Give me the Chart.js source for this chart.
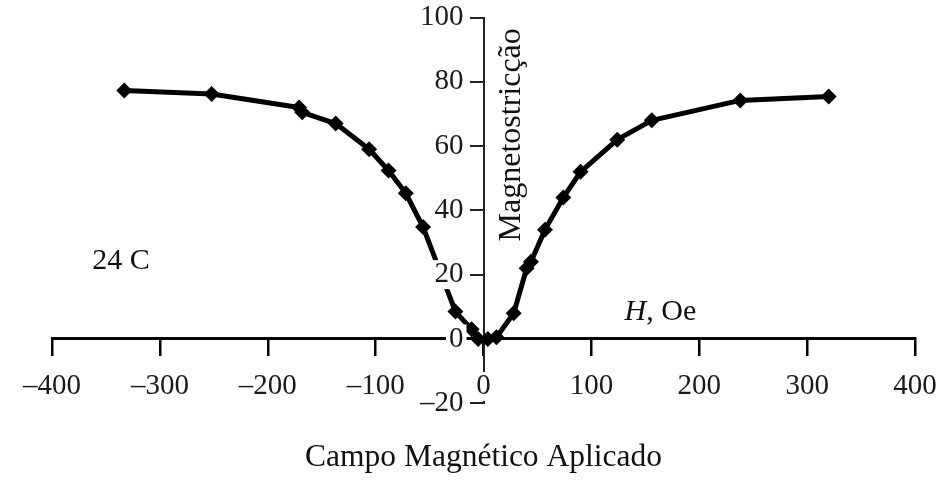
<!DOCTYPE html>
<html>
<head>
<meta charset="utf-8">
<script src="https://cdn.jsdelivr.net/npm/chart.js@4/dist/chart.umd.min.js"></script>
<style>
  html, body { margin: 0; padding: 0; background: #ffffff; }
  #wrap { width: 936px; height: 486px; }
</style>
</head>
<body>
<div id="wrap"><canvas id="c" width="936" height="486"></canvas></div>
<script>
// ---- data ----
const fieldH   = [-333, -252, -171, -168, -137, -106, -88, -72, -56, -26, -11, -5, 4, 12, 28, 40, 44, 57, 74, 90, 124, 156, 238, 320];
const magneto  = [77.3, 76.2, 72, 70.5, 67, 59, 52.4, 45.3, 34.8, 8.5, 3, 0, 0, 0.5, 8, 22, 24, 34, 44, 52, 62, 68, 74.2, 75.4];
const xTicks   = [-400, -300, -200, -100, 0, 100, 200, 300, 400];
const yTicks   = [-20, 0, 20, 40, 60, 80, 100];

const xTitle   = 'Campo Magnético Aplicado';
const yTitle   = 'Magnetostricção';
const tempNote = '24 C';
const unitNote = ['H', ', Oe'];

const SERIF = '"Liberation Serif", "Times New Roman", serif';
const fmt = v => (v < 0 ? '\u2013' + Math.abs(v) : String(v));
const noPad = s => { s.paddingLeft = 0; s.paddingRight = 0; s.paddingTop = 0; s.paddingBottom = 0; };

const notes = {
  id: 'notes',
  afterDraw(chart) {
    const {ctx, scales: {x, y}} = chart;
    ctx.save();
    ctx.fillStyle = '#111';
    ctx.textBaseline = 'middle';
    // temperature note
    ctx.font = '30px ' + SERIF;
    ctx.textAlign = 'center';
    ctx.fillText(tempNote, x.getPixelForValue(-336), y.getPixelForValue(24.3));
    // H, Oe
    ctx.font = 'italic 30px ' + SERIF;
    const hW = ctx.measureText(unitNote[0]).width;
    ctx.font = '30px ' + SERIF;
    const rW = ctx.measureText(unitNote[1]).width;
    const cx = x.getPixelForValue(164), cy = y.getPixelForValue(8.4);
    const sx = cx - (hW + rW) / 2;
    ctx.textAlign = 'left';
    ctx.font = 'italic 30px ' + SERIF;
    ctx.fillText(unitNote[0], sx, cy);
    ctx.font = '30px ' + SERIF;
    ctx.fillText(unitNote[1], sx + hW, cy);
    // vertical axis title
    ctx.translate(x.getPixelForValue(25.9), y.getPixelForValue(63.5));
    ctx.rotate(-Math.PI / 2);
    ctx.textAlign = 'center';
    ctx.font = '32px ' + SERIF;
    ctx.fillText(yTitle, 0, 0);
    ctx.restore();
  }
};

new Chart(document.getElementById('c'), {
  type: 'scatter',
  data: {
    datasets: [{
      data: fieldH.map((h, i) => ({x: h, y: magneto[i]})),
      showLine: true,
      borderColor: '#000',
      backgroundColor: '#000',
      borderWidth: 5,
      tension: 0,
      pointStyle: 'rectRot',
      pointRadius: 8,
      pointHoverRadius: 8,
      pointBorderWidth: 0,
      borderJoinStyle: 'round',
      borderCapStyle: 'round'
    }]
  },
  options: {
    responsive: false,
    animation: false,
    events: [],
    layout: { padding: { left: 52, right: 21, top: 17.5, bottom: 0 } },
    plugins: {
      legend: { display: false },
      tooltip: { enabled: false },
      title: {
        display: true,
        position: 'bottom',
        text: xTitle,
        color: '#111',
        font: { family: SERIF, size: 31.5, weight: 'normal' },
        padding: { top: 36, bottom: 9 }
      }
    },
    scales: {
      x: {
        type: 'linear',
        position: { y: 0 },
        min: -400, max: 400,
        afterBuildTicks: s => { s.ticks = xTicks.map(v => ({value: v})); },
        afterFit: noPad,
        grid: { drawOnChartArea: false, drawTicks: true, tickLength: 16, color: '#000', lineWidth: 2.5 },
        border: { display: true, color: '#000', width: 3, z: 0 },
        ticks: {
          z: 1,
          color: '#1a1a1a',
          font: { family: SERIF, size: 29, lineHeight: 1 },
          padding: 17,
          maxRotation: 0,
          autoSkip: false,
          callback: v => fmt(v),
          showLabelBackdrop: true,
          backdropColor: '#ffffff',
          backdropPadding: { left: 2, right: 2, top: 0, bottom: 0 }
        }
      },
      y: {
        type: 'linear',
        position: 'center',
        min: -20, max: 100,
        afterBuildTicks: s => { s.ticks = yTicks.map(v => ({value: v})); },
        afterFit: noPad,
        grid: { drawOnChartArea: false, drawTicks: true, tickLength: 13, color: '#222', lineWidth: 2 },
        border: { display: true, color: '#222', width: 2, z: 0 },
        ticks: {
          z: 1,
          color: '#1a1a1a',
          font: { family: SERIF, size: 29, lineHeight: 1 },
          padding: 7,
          autoSkip: false,
          callback: v => fmt(v),
          showLabelBackdrop: true,
          backdropColor: '#ffffff',
          backdropPadding: { left: 3, right: 3, top: 0, bottom: 0 }
        }
      }
    }
  },
  plugins: [notes]
});
</script>
</body>
</html>
